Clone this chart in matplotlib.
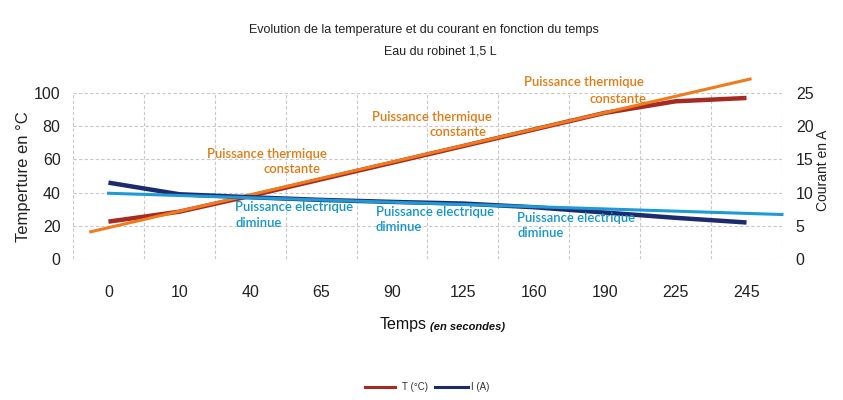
import matplotlib
matplotlib.use('Agg')
import matplotlib.pyplot as plt
import numpy as np

# Données
temps = ["0", "10", "40", "65", "90", "125", "160", "190", "225", "245"]
temperature = [22.5, 28.5, 38, 48, 58, 68, 78, 88, 95, 97]
courant = [11.5, 9.75, 9.3, 8.9, 8.6, 8.35, 7.8, 7.0, 6.2, 5.5]

# courbes de tendance (position en index de catégorie, valeurs)
tend_T_x = [-0.25, 9.05]
tend_T_y = [16.4, 108.4]
tend_I_x = [0.0, 9.5]
tend_I_y = [9.9, 6.7]

plt.rcParams['font.family'] = ['Liberation Sans', 'DejaVu Sans']

rouge = '#a52a22'
orange = '#f07a1e'
marine = '#1c2b6e'
bleu = '#1e9ad6'
texte_orange = '#e07b12'
texte_bleu = '#1296c8'
noir = '#222222'

fig = plt.figure(figsize=(8.43, 4.0), dpi=100)
ax = fig.add_axes([0.0866, 0.3525, 0.841, 0.415])
ax2 = ax.twinx()

x = np.arange(len(temps))

ax.plot(x, temperature, color=rouge, lw=3.2, solid_capstyle='butt', zorder=3)
ax.plot(tend_T_x, tend_T_y, color=orange, lw=2.2, clip_on=False, zorder=4)
ax2.plot(x, courant, color=marine, lw=3.2, solid_capstyle='butt', zorder=3)
ax2.plot(tend_I_x, tend_I_y, color=bleu, lw=2.2, clip_on=False, zorder=4)

ax.set_xlim(-0.5, len(temps) - 0.5)
ax.set_ylim(0, 100)
ax2.set_ylim(0, 25)
ax.set_yticks(range(0, 101, 20))
ax2.set_yticks(range(0, 26, 5))
ax.set_xticks(x)
ax.set_xticklabels(temps)
ax.set_xticks(np.arange(-0.5, len(temps), 1), minor=True)

ax.grid(axis='y', color='#c8c8c8', lw=0.8, ls=(0, (3, 2)))
ax.grid(axis='x', which='minor', color='#c8c8c8', lw=0.8, ls=(0, (3, 2)))
ax.tick_params(axis='both', which='both', length=0)
ax2.tick_params(axis='both', which='both', length=0)
for a in (ax, ax2):
    for s in a.spines.values():
        s.set_visible(False)
ax.set_axisbelow(True)

for lab in ax.get_xticklabels() + ax.get_yticklabels() + ax2.get_yticklabels():
    lab.set_fontsize(11.5)
    lab.set_color(noir)
ax.tick_params(axis='x', pad=19)
ax.tick_params(axis='y', pad=9)
ax2.tick_params(axis='y', pad=10)

fig.text(24 / 843, 1 - 177 / 400, "Temperture en °C", rotation=90, ha='center',
         va='center', fontsize=12, color=noir)
fig.text(823 / 843, 1 - 170 / 400, "Courant en A", rotation=90, ha='center',
         va='center', fontsize=10, color=noir)

fig.text(424 / 843, 1 - 30 / 400, "Evolution de la temperature et du courant en fonction du temps",
         ha='center', va='center', fontsize=9, color=noir)
fig.text(440 / 843, 1 - 52 / 400, "Eau du robinet 1,5 L", ha='center', va='center',
         fontsize=9, color=noir)

fig.text(380 / 843, 1 - 325 / 400, "Temps", ha='left', va='center', fontsize=11.5,
         color='#111111')
fig.text(430 / 843, 1 - 327 / 400, "(en secondes)", ha='left', va='center', fontsize=8,
         style='italic', weight='bold', color='#111111')

# annotations
def note(x0, y0, l1, l2, x1, y1, c):
    fig.text(x0 / 843, 1 - y0 / 400, l1, ha='left', va='center', fontsize=9.4,
             color=c, weight='semibold', family=['Lato', 'DejaVu Sans'])
    fig.text(x1 / 843, 1 - y1 / 400, l2, ha='left', va='center', fontsize=9.4,
             color=c, weight='semibold', family=['Lato', 'DejaVu Sans'])

note(207, 154, "Puissance thermique", "constante", 263, 169, texte_orange)
note(372, 117, "Puissance thermique", "constante", 430, 132, texte_orange)
note(524, 82, "Puissance thermique", "constante", 589, 99, texte_orange)
note(235, 207, "Puissance electrique", "diminue", 235, 223, texte_bleu)
note(376, 212, "Puissance electrique", "diminue", 376, 227, texte_bleu)
note(517, 218, "Puissance electrique", "diminue", 517, 233, texte_bleu)

# légende
fig.lines.append(plt.Line2D([365 / 843, 395 / 843], [1 - 387 / 400] * 2,
                            color=rouge, lw=2.2, transform=fig.transFigure))
fig.text(402 / 843, 1 - 387 / 400, "T (°C)", ha='left', va='center', fontsize=7,
         color='#333333')
fig.lines.append(plt.Line2D([435 / 843, 468 / 843], [1 - 387 / 400] * 2,
                            color=marine, lw=2.2, transform=fig.transFigure))
fig.text(471 / 843, 1 - 387 / 400, "I (A)", ha='left', va='center', fontsize=7,
         color='#333333')

fig.savefig("out.png", dpi=100)
